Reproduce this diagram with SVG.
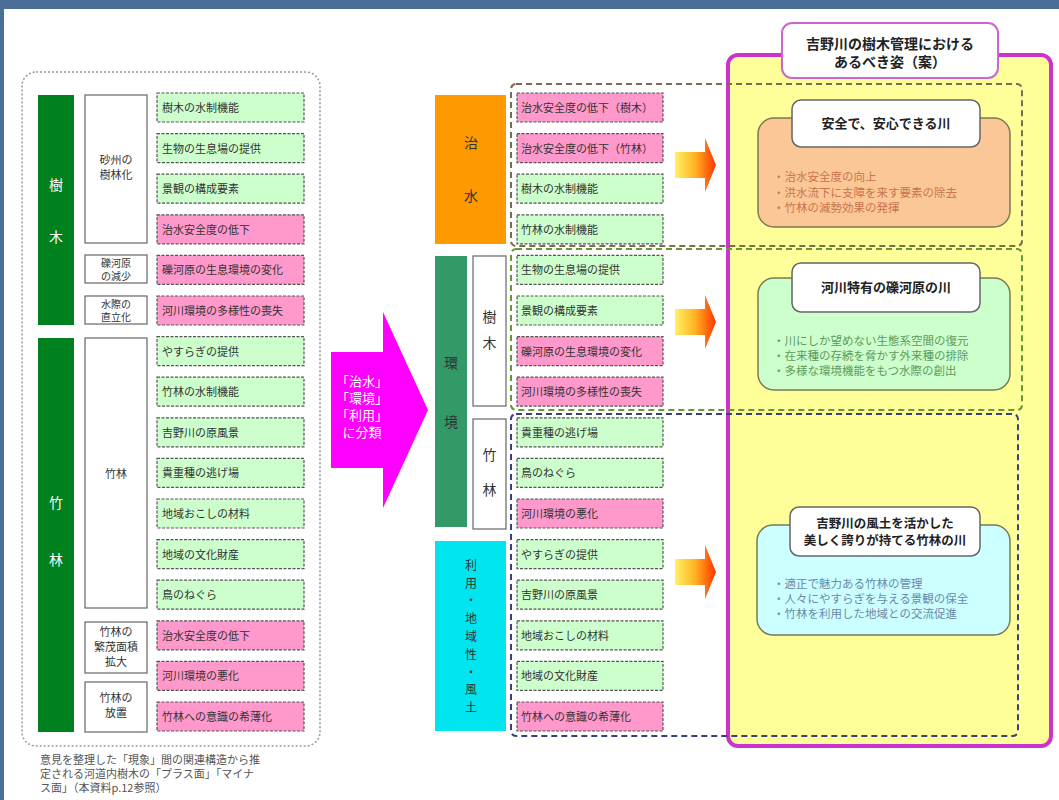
<svg xmlns="http://www.w3.org/2000/svg" width="1059" height="800" viewBox="0 0 1059 800">
<defs>
<style>
text{font-family:"Noto Sans CJK JP","Noto Sans",sans-serif;}
.it{font-size:11px;fill:#333;}
.g{fill:#CCFFCC;stroke:#555;stroke-width:1.2;stroke-dasharray:3 1.5;}
.p{fill:#FF99CC;stroke:#555;stroke-width:1.2;stroke-dasharray:3 1.5;}
.wb{fill:#fff;stroke:#666;stroke-width:1.2;}
.lb{font-size:11px;fill:#333;text-anchor:middle;}
.ls{font-size:10px;fill:#333;text-anchor:middle;}
.vt{font-size:14px;text-anchor:middle;}
.tb{fill:#fff;stroke:#666;stroke-width:1.5;}
.tt{font-size:13px;font-weight:bold;fill:#222;text-anchor:middle;}
.bl{font-size:11.5px;}
</style>
<linearGradient id="ga" x1="0" y1="0" x2="1" y2="0">
<stop offset="0" stop-color="#FFF266"/>
<stop offset="0.5" stop-color="#FFB020"/>
<stop offset="1" stop-color="#FF3300"/>
</linearGradient>
</defs>
<rect x="0" y="0" width="1059" height="800" fill="#4B6E98"/>
<rect x="4" y="9" width="1055" height="791" fill="#fff"/>

<!-- left container -->
<g id="left-frame">
<rect x="22" y="72" width="298" height="674" rx="14" fill="none" stroke="#999" stroke-width="1.5" stroke-dasharray="2 2"/>
</g>
<g id="bar-jumoku"><rect x="38" y="95" width="36" height="230" fill="#00801E"/>
<text x="56" y="190" class="vt" fill="#fff" font-size="13">樹</text><text x="56" y="242" class="vt" fill="#fff" font-size="13">木</text></g>
<g id="bar-chikurin"><rect x="38" y="338" width="36" height="394" fill="#00801E"/>
<text x="56" y="508" class="vt" fill="#fff" font-size="13">竹</text><text x="56" y="565" class="vt" fill="#fff" font-size="13">林</text></g>

<g id="c-sasu"><rect class="wb" x="85" y="95" width="62" height="148"/><text class="lb" x="116" y="164">砂州の</text><text class="lb" x="116" y="179">樹林化</text></g>
<g id="c-reki"><rect class="wb" x="85" y="255" width="62" height="28"/><text class="ls" x="116" y="267">礫河原</text><text class="ls" x="116" y="280">の減少</text></g>
<g id="c-mizugiwa"><rect class="wb" x="85" y="296" width="62" height="28"/><text class="ls" x="116" y="308">水際の</text><text class="ls" x="116" y="321">直立化</text></g>
<g id="c-chikurin"><rect class="wb" x="85" y="338" width="62" height="270"/><text class="lb" x="116" y="478">竹林</text></g>
<g id="c-hanmo"><rect class="wb" x="85" y="622" width="62" height="51"/><text class="lb" x="116" y="636">竹林の</text><text class="lb" x="116" y="651">繁茂面積</text><text class="lb" x="116" y="666">拡大</text></g>
<g id="c-houchi"><rect class="wb" x="85" y="682" width="62" height="50"/><text class="lb" x="116" y="702">竹林の</text><text class="lb" x="116" y="717">放置</text></g>

<g id="l1"><rect class="g" x="157" y="93" width="147" height="29"/><text class="it" x="162" y="112">樹木の水制機能</text></g>
<g id="l2"><rect class="g" x="157" y="133.6" width="147" height="29"/><text class="it" x="162" y="152.6">生物の生息場の提供</text></g>
<g id="l3"><rect class="g" x="157" y="174.2" width="147" height="29"/><text class="it" x="162" y="193.2">景観の構成要素</text></g>
<g id="l4"><rect class="p" x="157" y="214.8" width="147" height="29"/><text class="it" x="162" y="233.8">治水安全度の低下</text></g>
<g id="l5"><rect class="p" x="157" y="255.4" width="147" height="29"/><text class="it" x="162" y="274.4">礫河原の生息環境の変化</text></g>
<g id="l6"><rect class="p" x="157" y="296" width="147" height="29"/><text class="it" x="162" y="315">河川環境の多様性の喪失</text></g>
<g id="l7"><rect class="g" x="157" y="336.6" width="147" height="29"/><text class="it" x="162" y="355.6">やすらぎの提供</text></g>
<g id="l8"><rect class="g" x="157" y="377.2" width="147" height="29"/><text class="it" x="162" y="396.2">竹林の水制機能</text></g>
<g id="l9"><rect class="g" x="157" y="417.8" width="147" height="29"/><text class="it" x="162" y="436.8">吉野川の原風景</text></g>
<g id="l10"><rect class="g" x="157" y="458.4" width="147" height="29"/><text class="it" x="162" y="477.4">貴重種の逃げ場</text></g>
<g id="l11"><rect class="g" x="157" y="499" width="147" height="29"/><text class="it" x="162" y="518">地域おこしの材料</text></g>
<g id="l12"><rect class="g" x="157" y="539.6" width="147" height="29"/><text class="it" x="162" y="558.6">地域の文化財産</text></g>
<g id="l13"><rect class="g" x="157" y="580.2" width="147" height="29"/><text class="it" x="162" y="599.2">鳥のねぐら</text></g>
<g id="l14"><rect class="p" x="157" y="620.8" width="147" height="29"/><text class="it" x="162" y="639.8">治水安全度の低下</text></g>
<g id="l15"><rect class="p" x="157" y="661.4" width="147" height="29"/><text class="it" x="162" y="680.4">河川環境の悪化</text></g>
<g id="l16"><rect class="p" x="157" y="702" width="147" height="29"/><text class="it" x="162" y="721">竹林への意識の希薄化</text></g>

<g id="footnote">
<text x="40" y="764" style="font-size:11px;fill:#555">意見を整理した「現象」間の関連構造から推</text>
<text x="40" y="778" style="font-size:11px;fill:#555">定される河道内樹木の「プラス面」「マイナ</text>
<text x="40" y="792" style="font-size:11px;fill:#555">ス面」（本資料p.12参照）</text>
</g>

<!-- big arrow -->
<g id="classify-arrow">
<polygon points="331,352 383,352 383,312 428,410 383,508 383,468 331,468" fill="#FF00FF"/>
<text x="362" y="386" fill="#fff" style="font-size:13px;text-anchor:middle">「治水」</text>
<text x="362" y="403" fill="#fff" style="font-size:13px;text-anchor:middle">「環境」</text>
<text x="362" y="420" fill="#fff" style="font-size:13px;text-anchor:middle">「利用」</text>
<text x="362" y="437" fill="#fff" style="font-size:13px;text-anchor:middle">に分類</text>
</g>

<!-- right container -->
<g id="ideal-frame">
<rect x="728" y="55" width="323" height="691" rx="10" fill="#FFFF99" stroke="#CC33CC" stroke-width="4"/>
</g>

<!-- middle categories -->
<g id="m-chisui"><rect x="435" y="95" width="71" height="149" fill="#FF9900"/>
<text class="vt" x="471" y="148" fill="#333">治</text><text class="vt" x="471" y="201" fill="#333">水</text></g>
<g id="m-kankyo"><rect x="435" y="256" width="32" height="271" fill="#339966"/>
<text class="vt" x="451" y="368" fill="#333">環</text><text class="vt" x="451" y="427" fill="#333">境</text></g>
<g id="m-jumoku"><rect class="wb" x="473" y="256" width="33" height="150"/>
<text class="vt" x="489.5" y="322" fill="#333">樹</text><text class="vt" x="489.5" y="348" fill="#333">木</text></g>
<g id="m-chikurin"><rect class="wb" x="473" y="419" width="33" height="110"/>
<text class="vt" x="489.5" y="460" fill="#333">竹</text><text class="vt" x="489.5" y="495" fill="#333">林</text></g>
<g id="m-riyou"><rect x="435" y="541" width="71" height="190" fill="#00E5F0"/>
<g style="font-size:12px;fill:#333;text-anchor:middle">
<text x="471" y="570">利</text><text x="471" y="588">用</text><text x="471" y="605">・</text><text x="471" y="623">地</text><text x="471" y="641">域</text><text x="471" y="659">性</text><text x="471" y="677">・</text><text x="471" y="694">風</text><text x="471" y="712">土</text>
</g></g>

<g id="r1"><rect class="p" x="517" y="93" width="146" height="29"/><text class="it" x="521" y="112">治水安全度の低下（樹木）</text></g>
<g id="r2"><rect class="p" x="517" y="133.6" width="146" height="29"/><text class="it" x="521" y="152.6">治水安全度の低下（竹林）</text></g>
<g id="r3"><rect class="g" x="517" y="174.2" width="146" height="29"/><text class="it" x="521" y="193.2">樹木の水制機能</text></g>
<g id="r4"><rect class="g" x="517" y="214.8" width="146" height="29"/><text class="it" x="521" y="233.8">竹林の水制機能</text></g>
<g id="r5"><rect class="g" x="517" y="255.4" width="146" height="29"/><text class="it" x="521" y="274.4">生物の生息場の提供</text></g>
<g id="r6"><rect class="g" x="517" y="296" width="146" height="29"/><text class="it" x="521" y="315">景観の構成要素</text></g>
<g id="r7"><rect class="p" x="517" y="336.6" width="146" height="29"/><text class="it" x="521" y="355.6">礫河原の生息環境の変化</text></g>
<g id="r8"><rect class="p" x="517" y="377.2" width="146" height="29"/><text class="it" x="521" y="396.2">河川環境の多様性の喪失</text></g>
<g id="r9"><rect class="g" x="517" y="417.8" width="146" height="29"/><text class="it" x="521" y="436.8">貴重種の逃げ場</text></g>
<g id="r10"><rect class="g" x="517" y="458.4" width="146" height="29"/><text class="it" x="521" y="477.4">鳥のねぐら</text></g>
<g id="r11"><rect class="p" x="517" y="499" width="146" height="29"/><text class="it" x="521" y="518">河川環境の悪化</text></g>
<g id="r12"><rect class="g" x="517" y="539.6" width="146" height="29"/><text class="it" x="521" y="558.6">やすらぎの提供</text></g>
<g id="r13"><rect class="g" x="517" y="580.2" width="146" height="29"/><text class="it" x="521" y="599.2">吉野川の原風景</text></g>
<g id="r14"><rect class="g" x="517" y="620.8" width="146" height="29"/><text class="it" x="521" y="639.8">地域おこしの材料</text></g>
<g id="r15"><rect class="g" x="517" y="661.4" width="146" height="29"/><text class="it" x="521" y="680.4">地域の文化財産</text></g>
<g id="r16"><rect class="p" x="517" y="702" width="146" height="29"/><text class="it" x="521" y="721">竹林への意識の希薄化</text></g>

<!-- connectors: groupings and arrows -->
<g id="connectors">
<rect x="511" y="84" width="511" height="162" rx="5" fill="none" stroke="#7D6A52" stroke-width="2" stroke-dasharray="6 4"/>
<rect x="511" y="249" width="511" height="161" rx="5" fill="none" stroke="#669933" stroke-width="2" stroke-dasharray="6 4"/>
<rect x="511" y="414" width="507" height="322" rx="5" fill="none" stroke="#3A3F80" stroke-width="2" stroke-dasharray="6 4"/>
<polygon points="675,152 705,152 705,138 716,165 705,192 705,178 675,178" fill="url(#ga)"/>
<polygon points="675,309 705,309 705,295 716,322 705,349 705,335 675,335" fill="url(#ga)"/>
<polygon points="675,559 705,559 705,545 716,572 705,599 705,585 675,585" fill="url(#ga)"/>
</g>

<g id="ideal-title">
<rect x="782" y="23" width="216" height="55" rx="10" fill="#fff" stroke="#CC66CC" stroke-width="2"/>
<text x="890" y="49" style="font-size:14px;font-weight:bold;fill:#222;text-anchor:middle">吉野川の樹木管理における</text>
<text x="890" y="67" style="font-size:14px;font-weight:bold;fill:#222;text-anchor:middle">あるべき姿（案）</text>
</g>

<g id="s-anzen">
<rect x="758" y="118" width="252" height="109" rx="16" fill="#FBC797" stroke="#7A7A55" stroke-width="1.5"/>
<rect class="tb" x="792" y="100" width="188" height="47" rx="9"/>
<text class="tt" x="886" y="128">安全で、安心できる川</text>
<text class="bl" x="773" y="181" fill="#C8744E">・治水安全度の向上</text>
<text class="bl" x="773" y="197" fill="#C8744E">・洪水流下に支障を来す要素の除去</text>
<text class="bl" x="773" y="212" fill="#C8744E">・竹林の減勢効果の発揮</text>
</g>

<g id="s-rekigawara">
<rect x="758" y="278" width="252" height="112" rx="16" fill="#CCFFCC" stroke="#7A7A55" stroke-width="1.5"/>
<rect class="tb" x="792" y="263" width="188" height="49" rx="9"/>
<text class="tt" x="886" y="292">河川特有の礫河原の川</text>
<text class="bl" x="773" y="345" fill="#5E9A5E">・川にしか望めない生態系空間の復元</text>
<text class="bl" x="773" y="360" fill="#5E9A5E">・在来種の存続を脅かす外来種の排除</text>
<text class="bl" x="773" y="375" fill="#5E9A5E">・多様な環境機能をもつ水際の創出</text>
</g>

<g id="s-fudo">
<rect x="757" y="525" width="253" height="110" rx="16" fill="#CCFFFF" stroke="#7A7A55" stroke-width="1.5"/>
<rect class="tb" x="790" y="507" width="190" height="49" rx="9"/>
<text class="tt" x="885" y="528" style="font-size:12.5px">吉野川の風土を活かした</text>
<text class="tt" x="885" y="545" style="font-size:12.5px">美しく誇りが持てる竹林の川</text>
<text class="bl" x="773" y="588" fill="#6A8AA8">・適正で魅力ある竹林の管理</text>
<text class="bl" x="773" y="603" fill="#6A8AA8">・人々にやすらぎを与える景観の保全</text>
<text class="bl" x="773" y="618" fill="#6A8AA8">・竹林を利用した地域との交流促進</text>
</g>
</svg>
